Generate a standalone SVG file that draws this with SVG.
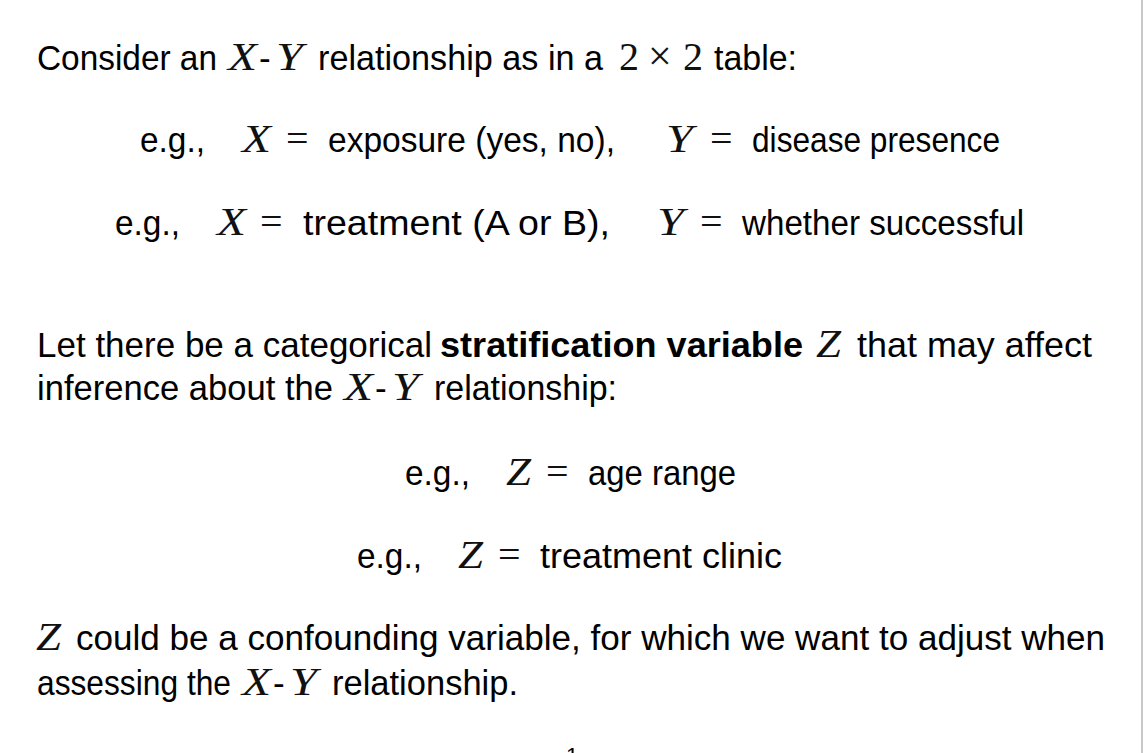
<svg xmlns="http://www.w3.org/2000/svg" width="1144" height="753" viewBox="0 0 1144 753">
<style>
.t{font-family:"Liberation Sans",Arial,sans-serif;font-size:35px;fill:#000}
.m{font-family:"Liberation Serif","Times New Roman",serif;font-style:italic;font-size:41px;fill:#111}
.r{font-family:"Liberation Serif","Times New Roman",serif;font-style:normal;font-size:40px;fill:#111}
.b{font-weight:bold}
</style>
<rect width="1144" height="753" fill="#fff"/>
<line x1="1142" y1="0" x2="1142" y2="753" stroke="#c8c8c8" stroke-width="2"/>
<g id="line1" class="t">
<text x="37" y="70" textLength="180" lengthAdjust="spacingAndGlyphs">Consider an</text>
<text x="228" y="70" class="m" textLength="29" lengthAdjust="spacingAndGlyphs">X</text><text x="259" y="70">-</text><text x="276" y="70" class="m" textLength="27" lengthAdjust="spacingAndGlyphs">Y</text>
<text x="318" y="70" textLength="285" lengthAdjust="spacingAndGlyphs">relationship as in a</text>
<text x="619" y="70" class="r">2</text><text x="648" y="70" class="r" style="font-size:42px">×</text><text x="683" y="70" class="r">2</text>
<text x="714" y="70" textLength="83" lengthAdjust="spacingAndGlyphs">table:</text>
</g>
<g id="line2" class="t">
<text x="140" y="152" textLength="65" lengthAdjust="spacingAndGlyphs">e.g.,</text>
<text x="242" y="152" class="m" textLength="29" lengthAdjust="spacingAndGlyphs">X</text><text x="286" y="152" class="r">=</text>
<text x="328" y="152" textLength="287" lengthAdjust="spacingAndGlyphs">exposure (yes, no),</text>
<text x="666" y="152" class="m" textLength="27" lengthAdjust="spacingAndGlyphs">Y</text><text x="710" y="152" class="r">=</text>
<text x="752" y="152" textLength="248" lengthAdjust="spacingAndGlyphs">disease presence</text>
</g>
<g id="line3" class="t">
<text x="115" y="235" textLength="65" lengthAdjust="spacingAndGlyphs">e.g.,</text>
<text x="217" y="235" class="m" textLength="29" lengthAdjust="spacingAndGlyphs">X</text><text x="260" y="235" class="r">=</text>
<text x="303" y="235" textLength="307" lengthAdjust="spacingAndGlyphs">treatment (A or B),</text>
<text x="657" y="235" class="m" textLength="27" lengthAdjust="spacingAndGlyphs">Y</text><text x="700" y="235" class="r">=</text>
<text x="742" y="235" textLength="282" lengthAdjust="spacingAndGlyphs">whether successful</text>
</g>
<g id="line4" class="t">
<text x="37" y="357" textLength="395" lengthAdjust="spacingAndGlyphs">Let there be a categorical</text>
<text x="440" y="357" class="b" textLength="363" lengthAdjust="spacingAndGlyphs">stratification variable</text>
<text x="816" y="357" class="m" textLength="25" lengthAdjust="spacingAndGlyphs">Z</text>
<text x="857" y="357" textLength="235" lengthAdjust="spacingAndGlyphs">that may affect</text>
</g>
<g id="line5" class="t">
<text x="37" y="400" textLength="296" lengthAdjust="spacingAndGlyphs">inference about the</text>
<text x="344" y="400" class="m" textLength="29" lengthAdjust="spacingAndGlyphs">X</text><text x="375" y="400">-</text><text x="392" y="400" class="m" textLength="27" lengthAdjust="spacingAndGlyphs">Y</text>
<text x="434" y="400" textLength="183" lengthAdjust="spacingAndGlyphs">relationship:</text>
</g>
<g id="line6" class="t">
<text x="405" y="485" textLength="65" lengthAdjust="spacingAndGlyphs">e.g.,</text>
<text x="506" y="485" class="m" textLength="25" lengthAdjust="spacingAndGlyphs">Z</text><text x="546" y="485" class="r">=</text>
<text x="588" y="485" textLength="148" lengthAdjust="spacingAndGlyphs">age range</text>
</g>
<g id="line7" class="t">
<text x="357" y="568" textLength="65" lengthAdjust="spacingAndGlyphs">e.g.,</text>
<text x="458" y="568" class="m" textLength="25" lengthAdjust="spacingAndGlyphs">Z</text><text x="498" y="568" class="r">=</text>
<text x="540" y="568" textLength="242" lengthAdjust="spacingAndGlyphs">treatment clinic</text>
</g>
<g id="line8" class="t">
<text x="36" y="650" class="m" textLength="25" lengthAdjust="spacingAndGlyphs">Z</text>
<text x="76" y="650" textLength="1029" lengthAdjust="spacingAndGlyphs">could be a confounding variable, for which we want to adjust when</text>
</g>
<g id="line9" class="t">
<text x="37" y="695" textLength="194" lengthAdjust="spacingAndGlyphs">assessing the</text>
<text x="242" y="695" class="m" textLength="29" lengthAdjust="spacingAndGlyphs">X</text><text x="273" y="695">-</text><text x="290" y="695" class="m" textLength="27" lengthAdjust="spacingAndGlyphs">Y</text>
<text x="332" y="695" textLength="186" lengthAdjust="spacingAndGlyphs">relationship.</text>
</g>
<g id="page">
<text x="566" y="763" class="t" style="font-size:22px">1</text>
</g>
</svg>
